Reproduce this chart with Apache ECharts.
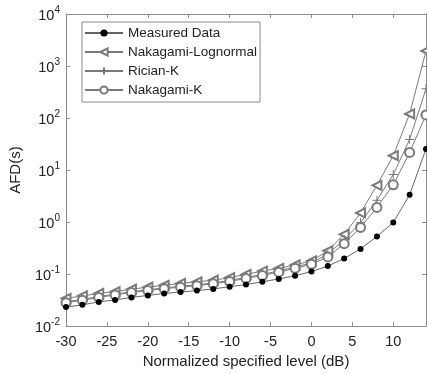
<!DOCTYPE html>
<html>
<head>
<meta charset="utf-8">
<script src="https://cdn.jsdelivr.net/npm/echarts@6/dist/echarts.min.js"></script>
<style>html,body{margin:0;padding:0;background:#fff}#c{width:427px;height:374px}</style>
</head>
<body>
<div id="c"></div>
<script>
const levels = [-30,-28,-26,-24,-22,-20,-18,-16,-14,-12,-10,-8,-6,-4,-2,0,2,4,6,8,10,12,14];
const measured = [0.0232,0.0256,0.0292,0.0318,0.0356,0.0389,0.0424,0.0452,0.0482,0.0518,0.0572,0.063,0.071,0.0807,0.093,0.112,0.143,0.199,0.305,0.527,0.986,3.34,25.5];
const nakLogn = [0.0342,0.038,0.0424,0.0461,0.0514,0.056,0.061,0.066,0.071,0.0762,0.0853,0.0986,0.114,0.129,0.150,0.179,0.281,0.582,1.50,5.09,18.9,120,1950];
const ricianK = [0.0294,0.0327,0.0372,0.0411,0.0457,0.0499,0.0543,0.0582,0.0624,0.0679,0.0757,0.0861,0.0986,0.115,0.137,0.164,0.241,0.459,0.975,2.62,8.2,38.7,366];
const nakK = [0.0282,0.0313,0.0356,0.0397,0.0442,0.0482,0.0525,0.056,0.0597,0.065,0.0724,0.0824,0.0938,0.109,0.129,0.154,0.214,0.384,0.787,1.91,5.2,21.8,115];
const seriesNames = ['Measured Data','Nakagami-Lognormal','Rician-K','Nakagami-K'];
const xTicks = [-30,-25,-20,-15,-10,-5,0,5,10];

const pair = arr => levels.map((x,i)=>[x,arr[i]]);
const gray = '#7a7a7a';
const txt = '#222';
const font = 'Arial, "Liberation Sans", sans-serif';
const plusPath = 'path://M0,5L10,5M5,0L5,10';

const chart = echarts.init(document.getElementById('c'));
const axisLine = {show:true, onZero:false, lineStyle:{color:'#8c8c8c', width:1}};
const tick = {show:true, inside:true, length:4, lineStyle:{color:'#8c8c8c'}};
chart.setOption({
  animation:false,
  backgroundColor:'#fff',
  textStyle:{fontFamily:font},
  grid:{left:66, top:14, right:1, bottom:38},
  legend:{
    orient:'vertical', left:82, top:22,
    backgroundColor:'#fff', borderColor:'#8c8c8c', borderWidth:1, borderRadius:0,
    padding:[4,3,5,2], itemGap:5, itemWidth:38, itemHeight:9,
    textStyle:{fontSize:13.5, color:txt, fontFamily:font},
    data:seriesNames
  },
  xAxis:[{
    type:'value', min:-30, max:14, interval:5,
    name:'Normalized specified level (dB)', nameLocation:'middle', nameGap:27,
    nameTextStyle:{fontSize:15, color:txt},
    axisLine:axisLine, axisTick:tick,
    axisLabel:{fontSize:14.5, color:txt, margin:8, showMaxLabel:false,
      formatter:v=> xTicks.indexOf(v)>=0 ? String(v) : ''},
    splitLine:{show:false}
  },{
    type:'value', min:-30, max:14, interval:5, position:'top',
    axisLine:axisLine, axisTick:tick,
    axisLabel:{show:false}, splitLine:{show:false}
  }],
  yAxis:[{
    type:'log', logBase:10, min:0.01, max:10000,
    name:'AFD(s)', nameLocation:'middle', nameGap:43,
    nameTextStyle:{fontSize:15, color:txt},
    axisLine:axisLine, axisTick:tick,
    axisLabel:{color:txt, margin:6,
      formatter:v=>{const e=Math.round(Math.log10(v)); return '{b|10}{s|'+e+'}';},
      rich:{b:{fontSize:14.5, color:txt, verticalAlign:'bottom', lineHeight:18},
            s:{fontSize:10, color:txt, verticalAlign:'top', lineHeight:18}}},
    splitLine:{show:false}
  },{
    type:'log', logBase:10, min:0.01, max:10000, position:'right',
    axisLine:axisLine, axisTick:tick,
    axisLabel:{show:false}, splitLine:{show:false}
  }],
  series:[
    {name:seriesNames[0], type:'line', data:pair(measured), symbol:'circle', symbolSize:6,
     itemStyle:{color:'#000'}, lineStyle:{color:'#666', width:1}, z:5},
    {name:seriesNames[1], type:'line', data:pair(nakLogn), symbol:'emptyTriangle', symbolSize:9, symbolRotate:90,
     itemStyle:{color:gray, borderWidth:1}, lineStyle:{color:gray, width:1}},
    {name:seriesNames[2], type:'line', data:pair(ricianK), symbol:plusPath, symbolSize:9,
     itemStyle:{color:gray, borderColor:gray, borderWidth:1}, lineStyle:{color:gray, width:1}},
    {name:seriesNames[3], type:'line', data:pair(nakK), symbol:'emptyCircle', symbolSize:9,
     itemStyle:{color:gray, borderWidth:1}, lineStyle:{color:gray, width:1}}
  ]
});
</script>
</body>
</html>
